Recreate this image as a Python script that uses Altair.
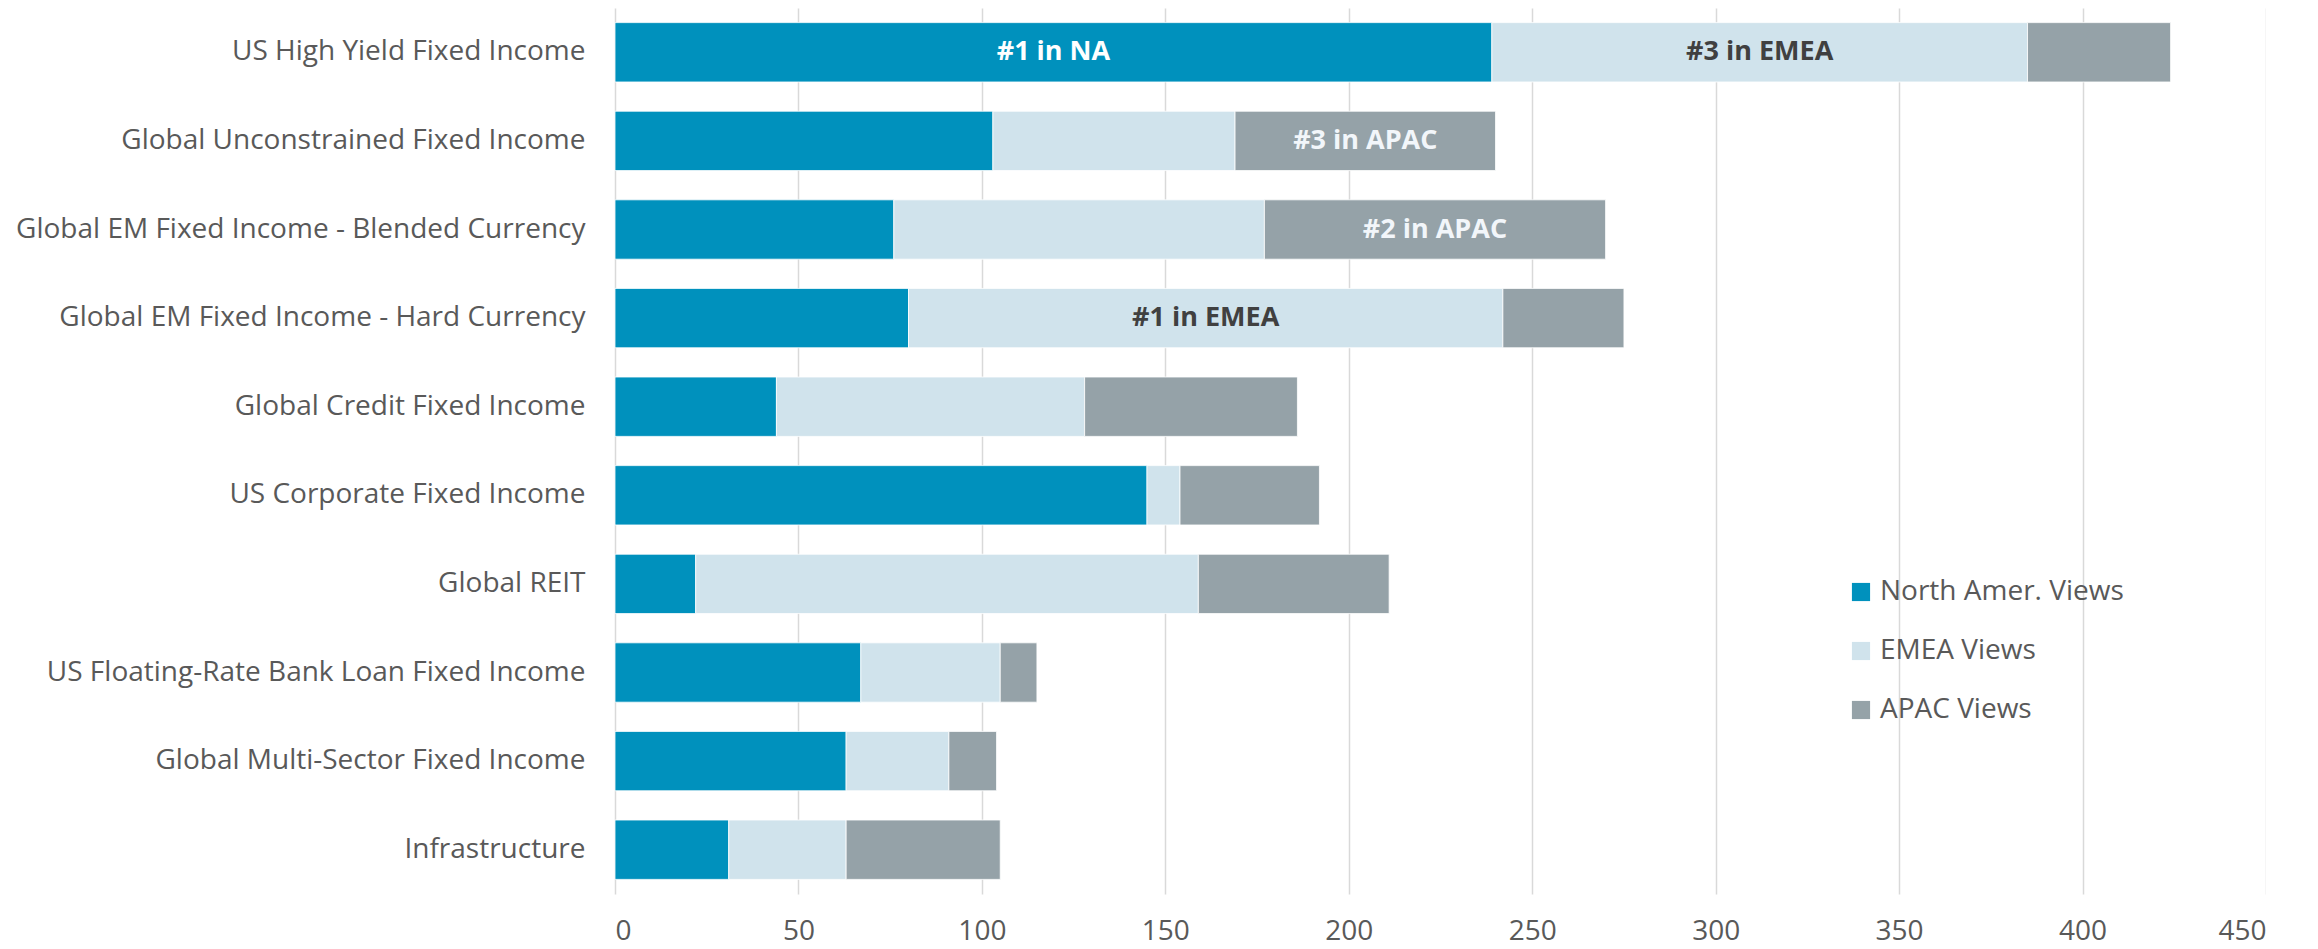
import altair as alt
import pandas as pd

categories = [
    "US High Yield Fixed Income",
    "Global Unconstrained Fixed Income",
    "Global EM Fixed Income - Blended Currency",
    "Global EM Fixed Income - Hard Currency",
    "Global Credit Fixed Income",
    "US Corporate Fixed Income",
    "Global REIT",
    "US Floating-Rate Bank Loan Fixed Income",
    "Global Multi-Sector Fixed Income",
    "Infrastructure",
]
na_views = [239, 103, 76, 80, 44, 145, 22, 67, 63, 31]
emea_views = [146, 66, 101, 162, 84, 9, 137, 38, 28, 32]
apac_views = [39, 71, 93, 33, 58, 38, 52, 10, 13, 42]
regions = ["North Amer. Views", "EMEA Views", "APAC Views"]
colors = ["#0091BD", "#D0E3EC", "#95A2A8"]

# annotations: (category index, region index, label, text colour)
ann_cat = [0, 0, 1, 2, 3]
ann_reg = [0, 1, 2, 2, 1]
ann_text = ["#1 in NA", "#3 in EMEA", "#3 in APAC", "#2 in APAC", "#1 in EMEA"]
ann_color = ["#FFFFFF", "#404040", "#F2F6FA", "#F2F6FA", "#404040"]

series = [na_views, emea_views, apac_views]
rows = []
for i, c in enumerate(categories):
    for r, reg in enumerate(regions):
        rows.append({"category": c, "region": reg, "value": series[r][i], "order": r})
df = pd.DataFrame(rows)

arows = []
for ci, ri, t, col in zip(ann_cat, ann_reg, ann_text, ann_color):
    start = sum(series[k][ci] for k in range(ri))
    mid = start + series[ri][ci] / 2
    arows.append({"category": categories[ci], "x": mid, "label": t, "color": col})
adf = pd.DataFrame(arows)

FONT = "Open Sans"
TXT = "#595959"

y_enc = alt.Y("category:N", sort=categories, title=None,
              scale=alt.Scale(paddingInner=0.33, paddingOuter=0.165),
              axis=alt.Axis(labelFontSize=28, labelColor=TXT, labelFont=FONT,
                            ticks=False, domain=False, labelPadding=30, labelLimit=800))

bars = alt.Chart(df).mark_bar(stroke="#FFFFFF", strokeWidth=0.8).encode(
    y=y_enc,
    x=alt.X("value:Q", stack="zero", title=None,
            scale=alt.Scale(domain=[0, 450], nice=False),
            axis=alt.Axis(values=list(range(0, 451, 50)), labelFontSize=28, labelColor=TXT,
                          labelFont=FONT, ticks=False, domain=False, labelPadding=23,
                          grid=True, gridColor="#D9D9D9", gridWidth=1.5)),
    color=alt.Color("region:N", sort=regions,
                    scale=alt.Scale(domain=regions, range=colors),
                    legend=alt.Legend(title=None, orient="none", legendX=1232, legendY=570,
                                      symbolType="square", symbolSize=330, symbolStrokeWidth=0,
                                      labelFontSize=28, labelFont=FONT, labelColor=TXT,
                                      labelLimit=400, rowPadding=31, labelOffset=5)),
    order=alt.Order("order:Q"),
)

texts = alt.Chart(adf).mark_text(fontSize=27, fontWeight="bold", font=FONT).encode(
    y=alt.Y("category:N", sort=categories),
    x=alt.X("x:Q"),
    text="label:N",
    color=alt.Color("color:N", scale=None),
)

chart = alt.layer(bars, texts).properties(
    width=1651, height=886,
    autosize=alt.AutoSizeParams(type="none"),
    padding={"left": 607, "top": 0, "right": 0, "bottom": 55},
).configure_view(stroke=None)

chart.save("out.html", embed_options={"renderer": "svg", "actions": False})
